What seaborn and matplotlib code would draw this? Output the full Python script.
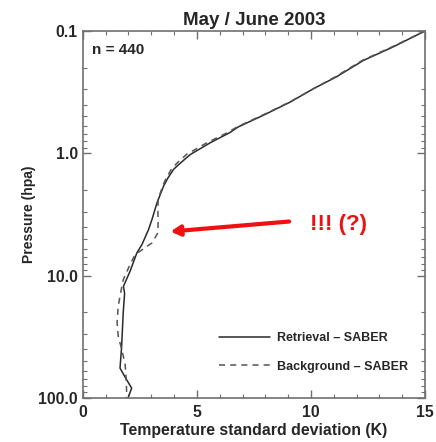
import numpy as np
import pandas as pd
import matplotlib
matplotlib.use("Agg")
import matplotlib.pyplot as plt
import seaborn as sns
from matplotlib.ticker import FixedLocator, LogLocator, MultipleLocator, NullFormatter

# ---- data ----
ret_p = [0.1, 0.135, 0.174, 0.238, 0.297, 0.382, 0.49, 0.61, 0.676, 0.817, 1.02, 1.19, 1.35,
         1.6, 1.85, 2.54, 3.47, 4.2, 5.57, 6.5, 9.2, 12.2, 14.0, 20.0, 38.0, 57.0, 70.0, 83.0, 100.0]
ret_t = [15.0, 13.6, 12.3, 11.1, 10.1, 9.08, 7.9, 6.8, 6.45, 5.6, 4.72, 4.3, 3.98,
         3.72, 3.54, 3.25, 3.03, 2.88, 2.59, 2.37, 2.07, 1.78, 1.83, 1.77, 1.7, 1.63, 1.9, 2.14, 1.98]
bkg_p = [0.1, 0.135, 0.174, 0.238, 0.297, 0.382, 0.49, 0.61, 0.676, 0.817, 1.02, 1.19, 1.35,
         1.6, 1.85, 2.38, 2.97, 3.6, 4.47, 5.4, 6.73, 8.1, 10.8, 14.0, 17.8, 24.0, 31.0, 40.0,
         52.0, 70.0, 91.0, 100.0]
bkg_t = [15.0, 13.55, 12.25, 11.05, 10.1, 9.05, 7.85, 6.75, 6.35, 5.45, 4.55, 4.15, 3.88,
         3.65, 3.5, 3.3, 3.29, 3.3, 3.29, 3.03, 2.29, 2.07, 1.77, 1.65, 1.55, 1.5, 1.55, 1.7,
         1.85, 1.9, 1.92, 1.89]
series_names = ["Retrieval \u2013 SABER", "Background \u2013 SABER"]
title = "May / June 2003"
n_label = "n = 440"
note = "!!! (?)"
x_ticks = [0, 5, 10, 15]
y_ticks = [0.1, 1.0, 10.0, 100.0]
y_ticklabels = ["0.1", "1.0", "10.0", "100.0"]

df = pd.concat([
    pd.DataFrame({"T": ret_t, "P": ret_p, "series": series_names[0]}),
    pd.DataFrame({"T": bkg_t, "P": bkg_p, "series": series_names[1]}),
], ignore_index=True)

sns.set_style("ticks")
plt.rcParams["font.family"] = ["Liberation Sans", "DejaVu Sans"]
plt.rcParams["font.weight"] = "bold"

fig = plt.figure(figsize=(4.36, 4.42), dpi=100)
ax = fig.add_axes([0.19, 0.0995, 0.785, 0.8305])

sns.lineplot(data=df, x="T", y="P", hue="series", style="series",
             palette=["#2a2a2a", "#555555"],
             dashes=[(None, None), (4, 3.3)], sort=False, estimator=None,
             linewidth=1.1, ax=ax)

ax.set_yscale("log")
ax.set_ylim(100, 0.1)
ax.set_xlim(0, 15)
ax.yaxis.set_major_locator(FixedLocator(y_ticks))
ax.set_yticklabels(y_ticklabels)
ax.yaxis.set_minor_locator(LogLocator(base=10, subs=np.arange(2, 10)))
ax.yaxis.set_minor_formatter(NullFormatter())
ax.set_xticks(x_ticks)
ax.xaxis.set_minor_locator(MultipleLocator(1))

for s in ax.spines.values():
    s.set_color("#707070")
    s.set_linewidth(1.2)
ax.tick_params(which="both", direction="in", top=True, right=True, color="#707070",
               labelsize=11.3)
ax.tick_params(axis="x", pad=5)
ax.tick_params(axis="y", pad=3.5)
ax.tick_params(which="major", length=6, width=1)
ax.tick_params(which="minor", length=3, width=0.8)
for lab in ax.get_xticklabels() + ax.get_yticklabels():
    lab.set_fontweight("bold")

ax.set_xlabel("Temperature standard deviation (K)", fontsize=11.4, fontweight="bold", labelpad=2)
ax.set_ylabel("Pressure (hpa)", fontsize=10, fontweight="bold", labelpad=1.5)
ax.set_title(title, fontsize=13.5, fontweight="bold", pad=4)

ax.text(0.026, 0.968, n_label, transform=ax.transAxes, fontsize=11, fontweight="bold",
        ha="left", va="top")

leg = ax.legend(loc="upper left", bbox_to_anchor=(0.398, 0.179), frameon=False,
                fontsize=9, handlelength=4.1, handletextpad=0.55, labelspacing=1.31,
                borderaxespad=0, borderpad=0)
for t in leg.get_texts():
    t.set_fontweight("bold")

ax.annotate("", xy=(3.84, 4.36), xytext=(9.04, 3.61),
            arrowprops=dict(arrowstyle="-|>,head_length=0.55,head_width=0.3",
                            color="#ee1111", lw=3.0, shrinkA=0, shrinkB=0))
ax.text(11.2, 3.82, note, color="#ee1111", fontsize=16, fontweight="bold",
        ha="center", va="center")

fig.savefig("out.png", dpi=100)
